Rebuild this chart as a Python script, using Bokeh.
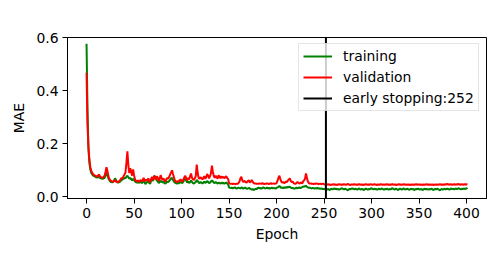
from bokeh.plotting import figure
from bokeh.models import Range1d, FixedTicker, PrintfTickFormatter, Legend, LegendItem
from bokeh.embed import file_html
from bokeh.resources import INLINE

# ---- data ----
train_mae = [
    0.577, 0.330, 0.180, 0.128, 0.102, 0.090, 0.084, 0.080, 0.078, 0.076,
    0.074, 0.073, 0.074, 0.076, 0.072, 0.070, 0.069, 0.068, 0.070, 0.072,
    0.080, 0.092, 0.082, 0.070, 0.063, 0.058, 0.056, 0.055, 0.056, 0.062,
    0.070, 0.064, 0.056, 0.054, 0.055, 0.057, 0.060, 0.064, 0.066, 0.068,
    0.072, 0.070, 0.076, 0.080, 0.074, 0.068, 0.072, 0.066, 0.062, 0.068,
    0.064, 0.058, 0.055, 0.054, 0.056, 0.053, 0.055, 0.058, 0.052, 0.054,
    0.060, 0.056, 0.048, 0.054, 0.056, 0.060, 0.052, 0.050, 0.062, 0.066,
    0.060, 0.072, 0.080, 0.068, 0.062, 0.058, 0.052, 0.056, 0.060, 0.058,
    0.054, 0.058, 0.052, 0.050, 0.054, 0.058, 0.056, 0.060, 0.064, 0.070,
    0.072, 0.064, 0.058, 0.054, 0.052, 0.050, 0.053, 0.051, 0.054, 0.056,
    0.054, 0.052, 0.058, 0.066, 0.072, 0.060, 0.054, 0.058, 0.052, 0.056,
    0.062, 0.056, 0.052, 0.050, 0.054, 0.056, 0.064, 0.060, 0.054, 0.052,
    0.056, 0.054, 0.050, 0.054, 0.058, 0.052, 0.055, 0.060, 0.056, 0.052,
    0.054, 0.058, 0.062, 0.058, 0.054, 0.052, 0.056, 0.053, 0.050, 0.054,
    0.052, 0.050, 0.054, 0.051, 0.053, 0.050, 0.052, 0.054, 0.051, 0.048,
    0.036, 0.034, 0.033, 0.035, 0.032, 0.034, 0.036, 0.033, 0.031, 0.034,
    0.035, 0.033, 0.032, 0.036, 0.034, 0.031, 0.033, 0.035, 0.032, 0.030,
    0.032, 0.034, 0.031, 0.029, 0.027, 0.030, 0.026, 0.028, 0.031, 0.029,
    0.033, 0.035, 0.032, 0.034, 0.031, 0.033, 0.036, 0.034, 0.032, 0.033,
    0.035, 0.032, 0.034, 0.031, 0.033, 0.035, 0.032, 0.034, 0.033, 0.031,
    0.034, 0.036, 0.038, 0.041, 0.037, 0.034, 0.035, 0.033, 0.036, 0.034,
    0.037, 0.035, 0.038, 0.036, 0.039, 0.035, 0.033, 0.034, 0.032, 0.031,
    0.033, 0.035, 0.032, 0.034, 0.036, 0.033, 0.035, 0.037, 0.038, 0.040,
    0.039, 0.042, 0.038, 0.036, 0.034, 0.035, 0.033, 0.032, 0.034, 0.033,
    0.031, 0.033, 0.032, 0.034, 0.031, 0.033, 0.030, 0.032, 0.031, 0.030,
    0.029, 0.031, 0.028, 0.027, 0.030, 0.028, 0.026, 0.029, 0.031, 0.028,
    0.030, 0.032, 0.029, 0.031, 0.028, 0.030, 0.027, 0.029, 0.031, 0.033,
    0.030, 0.028, 0.031, 0.029, 0.027, 0.025, 0.028, 0.030, 0.029, 0.031,
    0.032, 0.030, 0.028, 0.031, 0.029, 0.027, 0.030, 0.032, 0.029, 0.028,
    0.030, 0.028, 0.026, 0.029, 0.031, 0.029, 0.027, 0.030, 0.028, 0.031,
    0.033, 0.030, 0.028, 0.031, 0.029, 0.030, 0.027, 0.029, 0.031, 0.028,
    0.030, 0.032, 0.029, 0.027, 0.030, 0.028, 0.031, 0.029, 0.027, 0.030,
    0.028, 0.031, 0.033, 0.030, 0.028, 0.029, 0.031, 0.028, 0.026, 0.029,
    0.031, 0.029, 0.027, 0.030, 0.032, 0.029, 0.028, 0.030, 0.031, 0.028,
    0.027, 0.029, 0.031, 0.028, 0.030, 0.026, 0.028, 0.030, 0.029, 0.031,
    0.029, 0.027, 0.030, 0.028, 0.026, 0.029, 0.031, 0.028, 0.030, 0.029,
    0.027, 0.030, 0.028, 0.031, 0.029, 0.026, 0.028, 0.030, 0.028, 0.031,
    0.029, 0.027, 0.025, 0.028, 0.030, 0.027, 0.029, 0.031, 0.028, 0.030,
    0.031, 0.029, 0.027, 0.030, 0.032, 0.029, 0.031, 0.028, 0.030, 0.032,
    0.029, 0.031, 0.033, 0.030, 0.028, 0.031, 0.029, 0.032, 0.030, 0.031,
    0.033, 0.030,
]

val_mae = [
    0.468, 0.272, 0.190, 0.140, 0.112, 0.098, 0.090, 0.086, 0.082, 0.080,
    0.078, 0.076, 0.080, 0.084, 0.078, 0.074, 0.073, 0.072, 0.075, 0.080,
    0.095, 0.112, 0.098, 0.078, 0.068, 0.062, 0.060, 0.058, 0.057, 0.060,
    0.062, 0.058, 0.057, 0.056, 0.058, 0.062, 0.066, 0.072, 0.070, 0.078,
    0.085, 0.092, 0.130, 0.172, 0.120, 0.090, 0.108, 0.096, 0.080, 0.104,
    0.082, 0.066, 0.060, 0.058, 0.062, 0.057, 0.060, 0.064, 0.058, 0.061,
    0.072, 0.064, 0.059, 0.066, 0.062, 0.070, 0.058, 0.056, 0.068, 0.075,
    0.064, 0.080, 0.070, 0.066, 0.078, 0.072, 0.060, 0.068, 0.082, 0.070,
    0.064, 0.070, 0.062, 0.058, 0.066, 0.072, 0.068, 0.076, 0.084, 0.092,
    0.100, 0.086, 0.074, 0.062, 0.058, 0.056, 0.060, 0.057, 0.062, 0.066,
    0.060, 0.058, 0.066, 0.074, 0.080, 0.068, 0.062, 0.072, 0.066, 0.078,
    0.088, 0.072, 0.066, 0.064, 0.070, 0.078, 0.122, 0.090, 0.072, 0.068,
    0.074, 0.070, 0.066, 0.072, 0.078, 0.068, 0.074, 0.086, 0.080, 0.070,
    0.078, 0.090, 0.118, 0.094, 0.078, 0.072, 0.080, 0.074, 0.068, 0.082,
    0.076, 0.070, 0.078, 0.072, 0.076, 0.070, 0.074, 0.078, 0.072, 0.068,
    0.052, 0.050, 0.049, 0.050, 0.048, 0.050, 0.049, 0.048, 0.050, 0.049,
    0.052, 0.058, 0.070, 0.076, 0.062, 0.056, 0.060, 0.058, 0.054, 0.056,
    0.060, 0.062, 0.054, 0.058, 0.064, 0.056, 0.052, 0.050, 0.051, 0.049,
    0.050, 0.049, 0.051, 0.050, 0.049, 0.052, 0.050, 0.048, 0.050, 0.049,
    0.051, 0.050, 0.048, 0.050, 0.052, 0.049, 0.050, 0.051, 0.049, 0.050,
    0.052, 0.060, 0.072, 0.080, 0.068, 0.058, 0.054, 0.056, 0.052, 0.054,
    0.058, 0.056, 0.062, 0.066, 0.070, 0.060, 0.056, 0.058, 0.052, 0.050,
    0.050, 0.052, 0.056, 0.054, 0.050, 0.052, 0.055, 0.050, 0.058, 0.062,
    0.068, 0.088, 0.072, 0.058, 0.052, 0.050, 0.051, 0.049, 0.050, 0.048,
    0.050, 0.049, 0.051, 0.050, 0.048, 0.049, 0.050, 0.048, 0.049, 0.050,
    0.048, 0.047, 0.046, 0.047, 0.048, 0.046, 0.047, 0.045, 0.046, 0.047,
    0.048, 0.046, 0.047, 0.046, 0.045, 0.047, 0.048, 0.047, 0.046, 0.047,
    0.046, 0.048, 0.047, 0.046, 0.047, 0.049, 0.047, 0.046, 0.045, 0.047,
    0.047, 0.046, 0.048, 0.047, 0.046, 0.047, 0.046, 0.048, 0.047, 0.046,
    0.047, 0.046, 0.045, 0.047, 0.048, 0.047, 0.046, 0.047, 0.046, 0.048,
    0.047, 0.046, 0.047, 0.048, 0.047, 0.046, 0.045, 0.047, 0.046, 0.047,
    0.048, 0.047, 0.046, 0.047, 0.046, 0.047, 0.048, 0.046, 0.047, 0.046,
    0.047, 0.046, 0.048, 0.047, 0.046, 0.047, 0.045, 0.046, 0.047, 0.048,
    0.046, 0.047, 0.046, 0.047, 0.048, 0.047, 0.046, 0.047, 0.046, 0.047,
    0.046, 0.045, 0.047, 0.046, 0.047, 0.046, 0.047, 0.048, 0.046, 0.047,
    0.047, 0.046, 0.047, 0.046, 0.045, 0.047, 0.046, 0.047, 0.048, 0.046,
    0.047, 0.046, 0.047, 0.046, 0.047, 0.045, 0.046, 0.047, 0.046, 0.047,
    0.046, 0.047, 0.048, 0.046, 0.047, 0.046, 0.047, 0.046, 0.048, 0.047,
    0.049, 0.047, 0.046, 0.048, 0.047, 0.046, 0.047, 0.048, 0.046, 0.047,
    0.048, 0.047, 0.049, 0.046, 0.047, 0.048, 0.047, 0.046, 0.048, 0.047,
    0.048, 0.047,
]

early_stop_epoch = 252
x_ticks = [0, 50, 100, 150, 200, 250, 300, 350, 400]
y_ticks = [0.0, 0.2, 0.4, 0.6]
labels = ["training", "validation", "early stopping:%d" % early_stop_epoch]

train_epochs = list(range(len(train_mae)))
val_epochs = list(range(len(val_mae)))

FONT = "DejaVu Sans"
FS = "13.9px"

p = figure(width=500, height=257, output_backend="svg", toolbar_location=None,
           x_range=Range1d(-20.05, 421.05), y_range=Range1d(-0.006, 0.6005),
           min_border_left=67, min_border_right=14, min_border_top=37, min_border_bottom=59)

p.background_fill_color = "white"
p.border_fill_color = "white"
p.outline_line_color = "black"
p.outline_line_width = 1
p.xgrid.visible = False
p.ygrid.visible = False

r_train = p.line(train_epochs, train_mae, line_color="green", line_width=2)
r_val = p.line(val_epochs, val_mae, line_color="red", line_width=2)
r_es = p.line([early_stop_epoch, early_stop_epoch], [-1, 1], line_color="black", line_width=2)

for ax in (p.xaxis[0], p.yaxis[0]):
    ax.axis_line_color = "black"
    ax.major_tick_line_color = "black"
    ax.major_tick_out = 5
    ax.major_tick_in = 0
    ax.minor_tick_line_color = None
    ax.major_label_text_font = FONT
    ax.major_label_text_font_size = FS
    ax.major_label_text_color = "black"
    ax.axis_label_text_font = FONT
    ax.axis_label_text_font_size = FS
    ax.axis_label_text_font_style = "normal"
    ax.axis_label_text_color = "black"

p.xaxis.ticker = FixedTicker(ticks=x_ticks)
p.yaxis.ticker = FixedTicker(ticks=y_ticks)
p.yaxis.formatter = PrintfTickFormatter(format="%.1f")
p.xaxis.axis_label = "Epoch"
p.yaxis.axis_label = "MAE"
p.xaxis.major_label_standoff = 4
p.yaxis.major_label_standoff = 4
p.xaxis.axis_label_standoff = 5
p.yaxis.axis_label_standoff = 6

legend = Legend(items=[LegendItem(label=labels[0], renderers=[r_train]),
                       LegendItem(label=labels[1], renderers=[r_val]),
                       LegendItem(label=labels[2], renderers=[r_es])],
                location=(231, 87))
legend.label_text_font = FONT
legend.label_text_font_size = FS
legend.label_text_color = "black"
legend.border_line_color = "#cccccc"
legend.border_line_width = 1
legend.background_fill_color = "white"
legend.background_fill_alpha = 0.8
legend.padding = 4
legend.margin = 0
legend.spacing = 5
legend.glyph_width = 29
legend.glyph_height = 16
legend.label_height = 16
legend.label_standoff = 11
p.add_layout(legend)

open("out.html", "w").write(file_html(p, INLINE))
